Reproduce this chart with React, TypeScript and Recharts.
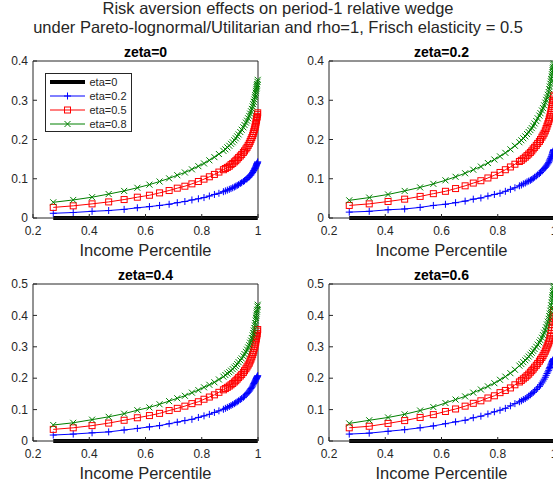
import React from 'react';
import { LineChart, Line, XAxis, YAxis, Legend } from 'recharts';

const FONT = '"Liberation Sans", Arial, Helvetica, sans-serif';
const AXIS = '#262626';

// income percentile grid shared by every panel (denser toward the top)
const percentile = [
  0.272, 0.343, 0.41, 0.469, 0.524, 0.571, 0.614, 0.65, 0.684, 0.713,
  0.74, 0.765, 0.788, 0.808, 0.827, 0.845, 0.861, 0.877,
  0.884, 0.891, 0.898, 0.904, 0.91, 0.916, 0.921, 0.926, 0.931, 0.937,
  0.942, 0.948, 0.952, 0.957, 0.961, 0.965, 0.969, 0.972, 0.975, 0.978,
  0.981, 0.983, 0.985, 0.987, 0.989, 0.99, 0.992, 0.993, 0.994, 0.995,
  0.996, 0.997, 0.998, 0.999,
];

// eta=0: no risk aversion, wedge stays at zero
const eta0Wedge = [
  0, 0, 0, 0, 0, 0, 0, 0, 0, 0, 0, 0, 0, 0, 0, 0, 0, 0,
  0, 0, 0, 0, 0, 0, 0, 0, 0, 0, 0, 0, 0, 0, 0, 0, 0, 0, 0,
  0, 0, 0, 0, 0, 0, 0, 0, 0, 0, 0, 0, 0, 0, 0,
];

const zeta0Eta02 = [
  0.012, 0.014, 0.017, 0.019, 0.022, 0.026, 0.029, 0.032, 0.035, 0.039,
  0.042, 0.046, 0.049, 0.052, 0.056, 0.06, 0.063, 0.067,
  0.069, 0.071, 0.073, 0.075, 0.077, 0.079, 0.081, 0.083, 0.085, 0.088,
  0.09, 0.093, 0.095, 0.098, 0.1, 0.103, 0.105, 0.108, 0.11, 0.113,
  0.116, 0.119, 0.121, 0.124, 0.126, 0.128, 0.13, 0.132, 0.134, 0.136,
  0.138, 0.139, 0.141, 0.143,
];
const zeta0Eta05 = [
  0.027, 0.031, 0.036, 0.041, 0.047, 0.053, 0.058, 0.064, 0.07, 0.076,
  0.081, 0.087, 0.093, 0.099, 0.105, 0.111, 0.117, 0.123,
  0.126, 0.129, 0.132, 0.136, 0.139, 0.143, 0.146, 0.15, 0.154, 0.158,
  0.162, 0.167, 0.171, 0.176, 0.18, 0.185, 0.19, 0.195, 0.2, 0.205,
  0.21, 0.215, 0.22, 0.225, 0.23, 0.234, 0.239, 0.244, 0.248, 0.252,
  0.256, 0.259, 0.264, 0.268,
];
const zeta0Eta08 = [
  0.04, 0.046, 0.053, 0.061, 0.069, 0.077, 0.085, 0.093, 0.101, 0.109,
  0.116, 0.124, 0.132, 0.139, 0.147, 0.155, 0.163, 0.171,
  0.175, 0.18, 0.184, 0.189, 0.193, 0.198, 0.203, 0.208, 0.213, 0.219,
  0.225, 0.231, 0.237, 0.243, 0.248, 0.254, 0.26, 0.266, 0.272, 0.278,
  0.284, 0.29, 0.296, 0.302, 0.308, 0.313, 0.319, 0.324, 0.329, 0.333,
  0.337, 0.341, 0.347, 0.352,
];

const zeta2Eta02 = [
  0.015, 0.017, 0.021, 0.023, 0.027, 0.032, 0.035, 0.039, 0.043, 0.048,
  0.051, 0.056, 0.06, 0.063, 0.068, 0.073, 0.077, 0.082,
  0.084, 0.087, 0.089, 0.092, 0.094, 0.096, 0.098, 0.101, 0.104, 0.107,
  0.11, 0.113, 0.116, 0.12, 0.123, 0.126, 0.129, 0.132, 0.135, 0.138,
  0.141, 0.145, 0.148, 0.151, 0.153, 0.156, 0.158, 0.161, 0.163, 0.166,
  0.168, 0.17, 0.172, 0.174,
];
const zeta2Eta05 = [
  0.032, 0.036, 0.042, 0.048, 0.055, 0.062, 0.068, 0.075, 0.082, 0.089,
  0.095, 0.102, 0.109, 0.116, 0.123, 0.13, 0.137, 0.144,
  0.147, 0.151, 0.155, 0.159, 0.163, 0.167, 0.171, 0.176, 0.18, 0.185,
  0.19, 0.195, 0.2, 0.206, 0.211, 0.216, 0.222, 0.228, 0.234, 0.24,
  0.246, 0.252, 0.257, 0.263, 0.268, 0.274, 0.279, 0.285, 0.29, 0.295,
  0.299, 0.303, 0.309, 0.313,
];
const zeta2Eta08 = [
  0.045, 0.052, 0.06, 0.069, 0.078, 0.087, 0.096, 0.105, 0.114, 0.123,
  0.131, 0.14, 0.149, 0.157, 0.166, 0.175, 0.184, 0.193,
  0.198, 0.203, 0.208, 0.214, 0.219, 0.224, 0.229, 0.235, 0.241, 0.247,
  0.254, 0.261, 0.267, 0.274, 0.28, 0.287, 0.294, 0.301, 0.307, 0.314,
  0.321, 0.328, 0.335, 0.342, 0.348, 0.354, 0.36, 0.366, 0.371, 0.376,
  0.381, 0.385, 0.39, 0.394,
];

const zeta4Eta02 = [
  0.019, 0.022, 0.026, 0.029, 0.035, 0.04, 0.045, 0.049, 0.055, 0.06,
  0.065, 0.069, 0.075, 0.08, 0.085, 0.091, 0.096, 0.101,
  0.104, 0.107, 0.11, 0.113, 0.116, 0.119, 0.122, 0.125, 0.128, 0.132,
  0.135, 0.139, 0.143, 0.147, 0.151, 0.155, 0.159, 0.163, 0.167, 0.171,
  0.175, 0.179, 0.183, 0.186, 0.189, 0.192, 0.195, 0.197, 0.199, 0.201,
  0.203, 0.204, 0.206, 0.208,
];
const zeta4Eta05 = [
  0.037, 0.042, 0.049, 0.057, 0.066, 0.074, 0.081, 0.088, 0.097, 0.104,
  0.111, 0.119, 0.125, 0.133, 0.14, 0.147, 0.155, 0.163,
  0.167, 0.171, 0.175, 0.179, 0.183, 0.188, 0.192, 0.197, 0.202, 0.207,
  0.212, 0.218, 0.224, 0.23, 0.236, 0.242, 0.248, 0.255, 0.261, 0.268,
  0.275, 0.282, 0.289, 0.296, 0.302, 0.309, 0.315, 0.322, 0.327, 0.333,
  0.337, 0.342, 0.35, 0.355,
];
const zeta4Eta08 = [
  0.051, 0.058, 0.068, 0.077, 0.087, 0.098, 0.107, 0.117, 0.127, 0.136,
  0.144, 0.154, 0.162, 0.171, 0.179, 0.187, 0.196, 0.205,
  0.21, 0.215, 0.219, 0.224, 0.229, 0.234, 0.239, 0.245, 0.251, 0.257,
  0.263, 0.27, 0.277, 0.284, 0.291, 0.298, 0.305, 0.313, 0.32, 0.328,
  0.336, 0.344, 0.352, 0.36, 0.368, 0.376, 0.384, 0.392, 0.399, 0.406,
  0.412, 0.418, 0.428, 0.434,
];

const zeta6Eta02 = [
  0.022, 0.025, 0.031, 0.036, 0.042, 0.048, 0.055, 0.061, 0.066, 0.074,
  0.079, 0.086, 0.093, 0.098, 0.104, 0.112, 0.119, 0.125,
  0.128, 0.132, 0.135, 0.139, 0.143, 0.147, 0.151, 0.155, 0.159, 0.164,
  0.169, 0.174, 0.179, 0.185, 0.191, 0.197, 0.203, 0.209, 0.215, 0.22,
  0.225, 0.23, 0.234, 0.238, 0.242, 0.245, 0.248, 0.251, 0.253, 0.255,
  0.257, 0.258, 0.26, 0.262,
];
const zeta6Eta05 = [
  0.042, 0.047, 0.056, 0.065, 0.075, 0.084, 0.094, 0.102, 0.111, 0.12,
  0.128, 0.137, 0.144, 0.154, 0.161, 0.169, 0.179, 0.188,
  0.193, 0.198, 0.203, 0.208, 0.213, 0.219, 0.224, 0.229, 0.235, 0.241,
  0.247, 0.254, 0.26, 0.266, 0.272, 0.279, 0.286, 0.293, 0.299, 0.306,
  0.312, 0.319, 0.327, 0.335, 0.343, 0.352, 0.361, 0.37, 0.378, 0.385,
  0.392, 0.398, 0.41, 0.416,
];
const zeta6Eta08 = [
  0.056, 0.066, 0.075, 0.085, 0.097, 0.108, 0.121, 0.132, 0.142, 0.154,
  0.164, 0.174, 0.184, 0.195, 0.205, 0.216, 0.227, 0.24,
  0.245, 0.251, 0.257, 0.263, 0.269, 0.275, 0.281, 0.287, 0.293, 0.3,
  0.307, 0.314, 0.321, 0.329, 0.337, 0.345, 0.353, 0.362, 0.371, 0.38,
  0.389, 0.398, 0.406, 0.415, 0.423, 0.432, 0.441, 0.45, 0.458, 0.465,
  0.472, 0.478, 0.488, 0.494,
];

const xTicks = [0.2, 0.4, 0.6, 0.8, 1];
const yTicksTop = [0, 0.1, 0.2, 0.3, 0.4];
const yTicksBottom = [0, 0.1, 0.2, 0.3, 0.4, 0.5];
const etaLabels = ['eta=0', 'eta=0.2', 'eta=0.5', 'eta=0.8'];
const zetaLabels = ['zeta=0', 'zeta=0.2', 'zeta=0.4', 'zeta=0.6'];

type MarkerKind = 'none' | 'plus' | 'square' | 'cross';

const series: { key: string; name: string; color: string; width: number; marker: MarkerKind }[] = [
  { key: 'e0', name: etaLabels[0], color: '#000000', width: 4, marker: 'none' },
  { key: 'e2', name: etaLabels[1], color: '#0000ff', width: 1, marker: 'plus' },
  { key: 'e5', name: etaLabels[2], color: '#ff0000', width: 1, marker: 'square' },
  { key: 'e8', name: etaLabels[3], color: '#008000', width: 1, marker: 'cross' },
];

const rowsFor = (e2: number[], e5: number[], e8: number[]) =>
  percentile.map((x, i) => ({ x, e0: eta0Wedge[i], e2: e2[i], e5: e5[i], e8: e8[i] }));

// plot box geometry (page pixels)
const PLOT_W = 225;
const PLOT_H = 157;
const Y_AXIS_W = 33;
const X_AXIS_H = 45;
const PAD = 20;

const panels = [
  { title: zetaLabels[0], left: 33, top: 61, yMax: 0.4, yTicks: yTicksTop, rows: rowsFor(zeta0Eta02, zeta0Eta05, zeta0Eta08), legend: true },
  { title: zetaLabels[1], left: 329, top: 61, yMax: 0.4, yTicks: yTicksTop, rows: rowsFor(zeta2Eta02, zeta2Eta05, zeta2Eta08), legend: false },
  { title: zetaLabels[2], left: 33, top: 284, yMax: 0.5, yTicks: yTicksBottom, rows: rowsFor(zeta4Eta02, zeta4Eta05, zeta4Eta08), legend: false },
  { title: zetaLabels[3], left: 329, top: 284, yMax: 0.5, yTicks: yTicksBottom, rows: rowsFor(zeta6Eta02, zeta6Eta05, zeta6Eta08), legend: false },
];

function Marker({ kind, cx, cy, color }: { kind: MarkerKind; cx: number; cy: number; color: string }) {
  if (kind === 'plus') {
    return (
      <g stroke={color} strokeWidth={1}>
        <line x1={cx - 3.5} y1={cy} x2={cx + 3.5} y2={cy} />
        <line x1={cx} y1={cy - 3.5} x2={cx} y2={cy + 3.5} />
      </g>
    );
  }
  if (kind === 'square') {
    return <rect x={cx - 3} y={cy - 3} width={6} height={6} fill="none" stroke={color} strokeWidth={1} />;
  }
  if (kind === 'cross') {
    return (
      <g stroke={color} strokeWidth={1}>
        <line x1={cx - 3} y1={cy - 3} x2={cx + 3} y2={cy + 3} />
        <line x1={cx - 3} y1={cy + 3} x2={cx + 3} y2={cy - 3} />
      </g>
    );
  }
  return null;
}

// MATLAB-style boxed legend
function EtaLegend() {
  return (
    <svg width={88} height={60} style={{ display: 'block' }}>
      <rect x={0.5} y={0.5} width={86} height={58} fill="#fff" stroke={AXIS} strokeWidth={1} />
      {series.map((s, i) => {
        const y = 9 + i * 14;
        return (
          <g key={s.key}>
            <line x1={5} y1={y} x2={40} y2={y} stroke={s.color} strokeWidth={s.width} />
            <Marker kind={s.marker} cx={22.5} cy={y} color={s.color} />
            <text x={44.5} y={y + 4} fontSize={11} fill={AXIS} fontFamily={FONT}>
              {s.name}
            </text>
          </g>
        );
      })}
    </svg>
  );
}

function Panel({ p }: { p: (typeof panels)[number] }) {
  const width = Y_AXIS_W + PLOT_W + PAD;
  const height = PAD + PLOT_H + X_AXIS_H;
  return (
    <div style={{ position: 'absolute', left: p.left - Y_AXIS_W, top: p.top - PAD, width, height }}>
      <LineChart
        width={width}
        height={height}
        data={p.rows}
        margin={{ top: PAD - 1, right: PAD - 1, bottom: 0, left: 0 }}
        style={{ fontFamily: FONT }}
      >
        <XAxis
          xAxisId="b"
          type="number"
          dataKey="x"
          domain={[0.2, 1]}
          ticks={xTicks}
          interval={0}
          height={X_AXIS_H}
          tickSize={-4}
          tickMargin={12}
          stroke={AXIS}
          tick={{ fill: AXIS, fontSize: 12 }}
        />
        <XAxis
          xAxisId="t"
          orientation="top"
          type="number"
          dataKey="x"
          domain={[0.2, 1]}
          ticks={xTicks}
          interval={0}
          height={1}
          tickSize={-4}
          tick={false}
          stroke={AXIS}
        />
        <YAxis
          yAxisId="l"
          type="number"
          domain={[0, p.yMax]}
          ticks={p.yTicks}
          interval={0}
          width={Y_AXIS_W}
          tickSize={-4}
          tickMargin={9}
          stroke={AXIS}
          tick={{ fill: AXIS, fontSize: 12 }}
        />
        <YAxis
          yAxisId="r"
          orientation="right"
          type="number"
          domain={[0, p.yMax]}
          ticks={p.yTicks}
          interval={0}
          width={1}
          tickSize={-4}
          tick={false}
          stroke={AXIS}
        />
        {series.map((s) => (
          <Line
            key={s.key}
            xAxisId="b"
            yAxisId="l"
            type="linear"
            dataKey={s.key}
            name={s.name}
            stroke={s.color}
            strokeWidth={s.width}
            isAnimationActive={false}
            activeDot={false}
            dot={
              s.marker === 'none'
                ? false
                : (d: any) => <Marker key={`${s.key}-${d.index}`} kind={s.marker} cx={d.cx} cy={d.cy} color={s.color} />
            }
          />
        ))}
        {p.legend && (
          <Legend
            layout="horizontal"
            verticalAlign="middle"
            align="center"
            wrapperStyle={{ left: 45, top: 32, width: 88, height: 60 }}
            content={() => <EtaLegend />}
          />
        )}
      </LineChart>
    </div>
  );
}

export default function App() {
  return (
    <div style={{ position: 'absolute', left: 0, top: 0, width: 553, height: 488, overflow: 'hidden', background: '#fff' }}>
      {panels.map((p) => (
        <Panel key={p.title} p={p} />
      ))}
      <svg
        width={553}
        height={488}
        style={{ position: 'absolute', left: 0, top: 0, pointerEvents: 'none' }}
        fontFamily={FONT}
      >
        <text x={278} y={13.5} textAnchor="middle" fontSize={16.5} fill={AXIS}>
          Risk aversion effects on period-1 relative wedge
        </text>
        <text x={278} y={32.5} textAnchor="middle" fontSize={16.5} fill={AXIS}>
          under Pareto-lognormal/Utilitarian and rho=1, Frisch elasticity = 0.5
        </text>
        {panels.map((p) => (
          <g key={p.title}>
            <text x={p.left + PLOT_W / 2} y={p.top - 4.5} textAnchor="middle" fontSize={14} fontWeight="bold" fill="#000">
              {p.title}
            </text>
            <text x={p.left + PLOT_W / 2} y={p.top + PLOT_H + 38} textAnchor="middle" fontSize={16.5} fill={AXIS}>
              Income Percentile
            </text>
          </g>
        ))}
      </svg>
    </div>
  );
}
